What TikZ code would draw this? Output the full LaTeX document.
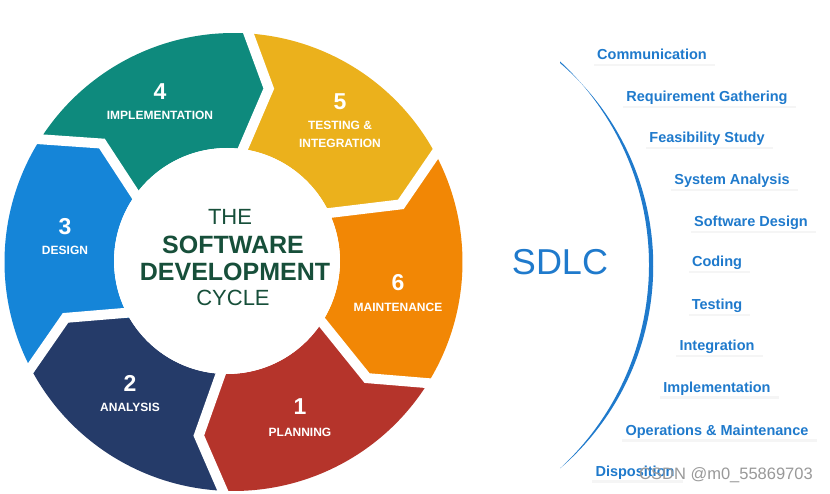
\documentclass[tikz,border=0pt]{standalone}
\usepackage{fontspec}
\setmainfont{Liberation Sans}
\usepackage{tikz}
\usetikzlibrary{calc,backgrounds}
\pgfdeclarelayer{background}
\pgfsetlayers{background,main}
\usepackage{xcolor}
\definecolor{implteal}{RGB}{14,138,125}
\definecolor{testyellow}{RGB}{235,177,28}
\definecolor{maintorange}{RGB}{242,135,5}
\definecolor{planred}{RGB}{181,52,43}
\definecolor{analnavy}{RGB}{37,59,105}
\definecolor{designblue}{RGB}{21,133,216}
\definecolor{cyclegreen}{RGB}{23,79,58}
\definecolor{sdlcblue}{RGB}{31,122,204}

\begin{document}
\begin{tikzpicture}[x=1pt, y=1pt,
  every node/.style={inner sep=0pt},
  num/.style={text=white, font=\fontsize{23}{23}\selectfont\bfseries},
  phase/.style={text=white, font=\fontsize{12}{18}\selectfont\bfseries, align=center},
  cycthin/.style={text=cyclegreen, font=\fontsize{22}{22}\selectfont},
  cycbold/.style={text=cyclegreen, font=\fontsize{25}{25}\selectfont\bfseries},
  stage/.style={text=sdlcblue, anchor=base, font=\fontsize{14.5}{15}\selectfont\bfseries},
  gap/.style={white, line width=10pt},
  brush/.style={fill=sdlcblue},
]

\useasboundingbox (0,0) rectangle (830,493);
\coordinate (C)  at (233.5,231);
\coordinate (C2) at (227,232);

% ── WHEEL ── six chevrons, clockwise
\fill[maintorange] ($(C)+(29.5:229)$) arc[start angle=29.5, end angle=-30.6, radius=229]
  -- ($(C)+(-41:177)$) -- ($(C2)+(-30.3:113)$) arc[start angle=-30.3, end angle=27.6, radius=113]
  -- ($(C)+(19:177)$) -- cycle;
\fill[planred] ($(C)+(-30.6:229)$) arc[start angle=-30.6, end angle=-91.4, radius=229]
  -- ($(C)+(-101.3:177)$) -- ($(C2)+(-91:113)$) arc[start angle=-91, end angle=-30.3, radius=113]
  -- ($(C)+(-41:177)$) -- cycle;
\fill[analnavy] ($(C)+(-91.4:229)$) arc[start angle=-91.4, end angle=-151, radius=229]
  -- ($(C)+(-161.6:177)$) -- ($(C2)+(-149.6:113)$) arc[start angle=-149.6, end angle=-91, radius=113]
  -- ($(C)+(-101.3:177)$) -- cycle;
\fill[designblue] ($(C)+(-151:229)$) arc[start angle=-151, end angle=-211, radius=229]
  -- ($(C)+(-222:177)$) -- ($(C2)+(-213:113)$) arc[start angle=-213, end angle=-149.6, radius=113]
  -- ($(C)+(-161.6:177)$) -- cycle;
\fill[implteal] ($(C)+(-211:229)$) arc[start angle=-211, end angle=-272.6, radius=229]
  -- ($(C)+(-281.5:177)$) -- ($(C2)+(-276:113)$) arc[start angle=-276, end angle=-213, radius=113]
  -- ($(C)+(-222:177)$) -- cycle;
\fill[testyellow] ($(C)+(-272.6:229)$) arc[start angle=-272.6, end angle=-330.5, radius=229]
  -- ($(C)+(-341:177)$) -- ($(C2)+(-332.4:113)$) arc[start angle=-332.4, end angle=-276, radius=113]
  -- ($(C)+(-281.5:177)$) -- cycle;

% white gaps between the chevrons
\draw[gap] ($(C)+(29.5:240)$)   -- ($(C)+(19:177)$)     -- ($(C2)+(27.6:100)$);
\draw[gap] ($(C)+(-30.6:240)$)  -- ($(C)+(-41:177)$)    -- ($(C2)+(-30.3:100)$);
\draw[gap] ($(C)+(-91.4:240)$)  -- ($(C)+(-101.3:177)$) -- ($(C2)+(-91:100)$);
\draw[gap] ($(C)+(-151:240)$)   -- ($(C)+(-161.6:177)$) -- ($(C2)+(-149.6:100)$);
\draw[gap] ($(C)+(-211:240)$)   -- ($(C)+(-222:177)$)   -- ($(C2)+(-213:100)$);
\draw[gap] ($(C)+(-272.6:240)$) -- ($(C)+(-281.5:177)$) -- ($(C2)+(-276:100)$);
\fill[white] (C2) circle[radius=113];

% numbers and phases
\node[num]   at (300, 86)  (n1) {1};
\node[phase] at (300, 61)  (p1) {PLANNING};
\node[num]   at (130,110)  (n2) {2};
\node[phase] at (130, 86)  (p2) {ANALYSIS};
\node[num]   at ( 65,266)  (n3) {3};
\node[phase] at ( 65,243)  (p3) {DESIGN};
\node[num]   at (160,401)  (n4) {4};
\node[phase] at (160,378)  (p4) {IMPLEMENTATION};
\node[num]   at (340,391)  (n5) {5};
\node[phase] at (340,359)  (p5) {TESTING \&\\INTEGRATION};
\node[num]   at (398,210)  (n6) {6};
\node[phase] at (398,186)  (p6) {MAINTENANCE};

% centre title
\node[cycthin] at (230,276) (the)  {THE};
\node[cycbold] at (233,248) (soft) {SOFTWARE};
\node[cycbold] at (235,221) (dev)  {DEVELOPMENT};
\node[cycthin] at (233,195) (cyc)  {CYCLE};

% ── SDLC ── brush arc and stage list
\node[text=sdlcblue, font=\fontsize{36}{36}\selectfont] at (560,231) (sdlc) {SDLC};
\coordinate (arctop) at (560,430);
\fill[brush] (arctop) arc[start angle=49.4, end angle=-49.4, radius=267]
  arc[start angle=-47.24, end angle=47.24, radius=277.2] -- cycle;

\node[stage] at (652,433) (comm)  {Communication};
\node[stage] at (707,391) (reqg)  {Requirement Gathering};
\node[stage] at (707,350) (feas)  {Feasibility Study};
\node[stage] at (732,308) (sysan) {System Analysis};
\node[stage] at (751,266) (swdes) {Software Design};
\node[stage] at (717,226) (cod)   {Coding};
\node[stage] at (717,183) (tst)   {Testing};
\node[stage] at (717,142) (integ) {Integration};
\node[stage] at (717,101) (impl)  {Implementation};
\node[stage] at (717, 58) (opm)   {Operations \& Maintenance};
\node[stage] at (635, 17) (disp)  {Disposition};

\node[text=black!40, font=\fontsize{16.5}{17}\selectfont] at (726,18) (wmark) {CSDN @m0\_55869703};

\begin{pgfonlayer}{background}
\fill[white] (0,0) rectangle (830,493);
\foreach \s in {comm,reqg,feas,sysan,swdes,cod,tst,integ,impl,opm,disp}
  \fill[black!4] ([xshift=-3, yshift=-4]\s.base west) rectangle ([xshift=8, yshift=-6.5]\s.base east);
\end{pgfonlayer}

\end{tikzpicture}
\end{document}
